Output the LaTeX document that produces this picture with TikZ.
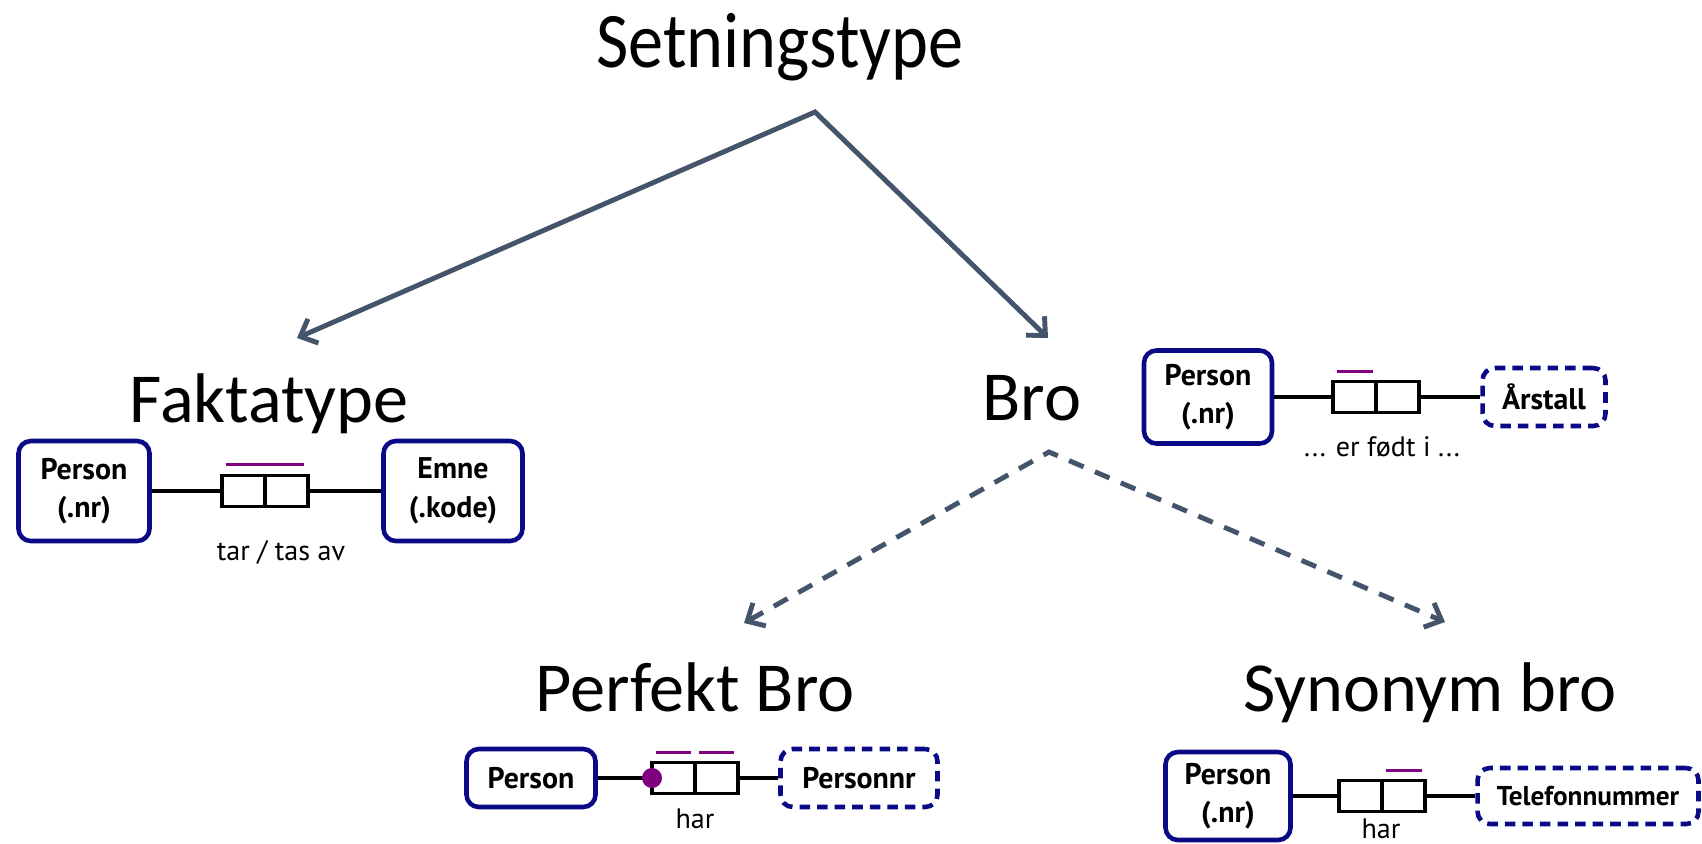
\documentclass[tikz,border=0pt]{standalone}
\usepackage{fontspec}
\setmainfont{Carlito}
\newfontfamily\boxfont{PT Sans}
\usetikzlibrary{arrows.meta,positioning}
\definecolor{slate}{RGB}{68,84,106}
\definecolor{ormblue}{RGB}{10,10,135}
\definecolor{ucpurple}{RGB}{128,0,128}
\tikzset{>={Straight Barb[length=8pt,width=15pt]}}

\begin{document}
\begin{tikzpicture}[x=0.02cm,y=-0.02cm,
    title/.style={font=\fontsize{40}{48}\selectfont, anchor=base, inner sep=0pt},
    gen/.style={<->, slate, line width=2.8pt},
    genb/.style={gen, dash pattern=on 9pt off 7pt},
    entity/.style={draw=ormblue, line width=2.6pt, rounded corners=7pt, align=center, inner sep=0pt,
      font=\boxfont\fontsize{17}{22}\selectfont\bfseries},
    valtype/.style={entity, dash pattern=on 6pt off 4pt},
    role/.style={draw, line width=2pt, minimum width=0.86cm, minimum height=0.62cm, inner sep=0pt, outer sep=0pt},
    link/.style={line width=2pt},
    uc/.style={ucpurple, line width=2pt},
    lbl/.style={font=\boxfont\fontsize{16}{18}\selectfont, inner sep=0pt}]
  \useasboundingbox (0,0) rectangle (1702,843);

  % headings
  \node[title] (sType) at (780,67) {\scalebox{1}[1.12]{Setningstype}};
  \node[title] (fType) at (269,422) {Faktatype};
  \node[title] (bro) at (1032,420) {Bro};
  \node[title] (pBro) at (695,711) {Perfekt Bro};
  \node[title] (sBro) at (1430,711) {Synonym bro};

  % subtypes
  \coordinate (apex) at (815,112);
  \coordinate (fTip) at (297,338);
  \coordinate (bTip) at (1048,338);
  \draw[gen] (fTip) -- (apex) -- (bTip);
  \coordinate (bApex) at (1049,452);
  \coordinate (pTip) at (744,623);
  \coordinate (sTip) at (1445,622);
  \draw[genb] (pTip) -- (bApex) -- (sTip);

  % tar / tas av
  \node[entity, minimum width=2.62cm, minimum height=2cm] (fPerson) at (84,491) {Person\\(.nr)};
  \node[entity, minimum width=2.78cm, minimum height=2cm] (fEmne) at (453,491) {Emne\\(.kode)};
  \node[role, anchor=east] (fRa) at (265,491) {};
  \node[role, right=0pt of fRa] (fRb) {};
  \draw[link] (fPerson.east) -- (fRa.west);
  \draw[link] (fRb.east) -- (fEmne.west);
  \draw[uc] ([xshift=2pt,yshift=0.22cm]fRa.north west) -- ([xshift=-2pt,yshift=0.22cm]fRb.north east);
  \node[lbl] (fLbl) at (281,552) {tar / tas av};

  % er fodt i
  \node[entity, minimum width=2.56cm, minimum height=1.86cm] (tPerson) at (1208,397) {Person\\(.nr)};
  \node[valtype, minimum width=2.46cm, minimum height=1.16cm] (tYear) at (1544,397) {Årstall};
  \node[role, anchor=east] (tRa) at (1376,397) {};
  \node[role, right=0pt of tRa] (tRb) {};
  \draw[link] (tPerson.east) -- (tRa.west);
  \draw[link] (tRb.east) -- (tYear.west);
  \draw[uc] ([xshift=2pt,yshift=0.2cm]tRa.north west) -- ([xshift=-2pt,yshift=0.2cm]tRa.north east);
  \node[lbl] (tLbl) at (1382,447) {... er født i ...};

  % perfekt bro
  \node[entity, minimum width=2.58cm, minimum height=1.16cm] (pPerson) at (531,778) {Person};
  \node[valtype, minimum width=3.14cm, minimum height=1.16cm] (pNr) at (859,778) {Personnr};
  \node[role, anchor=east] (pRa) at (695,778) {};
  \node[role, right=0pt of pRa] (pRb) {};
  \draw[link] (pPerson.east) -- (pRa.west);
  \draw[link] (pRb.east) -- (pNr.west);
  \draw[uc] ([xshift=2pt,yshift=0.2cm]pRa.north west) -- ([xshift=-2pt,yshift=0.2cm]pRa.north east);
  \draw[uc] ([xshift=2pt,yshift=0.2cm]pRb.north west) -- ([xshift=-2pt,yshift=0.2cm]pRb.north east);
  \fill[ucpurple] (pRa.west) circle (0.2cm);
  \node[lbl] (pLbl) at (695,819) {har};

  % synonym bro
  \node[entity, minimum width=2.5cm, minimum height=1.76cm] (sPerson) at (1228,796) {Person\\(.nr)};
  \node[valtype, minimum width=4.42cm, minimum height=1.12cm, font=\boxfont\fontsize{15.5}{20}\selectfont\bfseries] (sTel) at (1588,796) {Telefonnummer};
  \node[role, anchor=east] (sRa) at (1382,796) {};
  \node[role, right=0pt of sRa] (sRb) {};
  \draw[link] (sPerson.east) -- (sRa.west);
  \draw[link] (sRb.east) -- (sTel.west);
  \draw[uc] ([xshift=2pt,yshift=0.2cm]sRb.north west) -- ([xshift=-2pt,yshift=0.2cm]sRb.north east);
  \node[lbl] (sLbl) at (1381,829) {har};
\end{tikzpicture}
\end{document}
